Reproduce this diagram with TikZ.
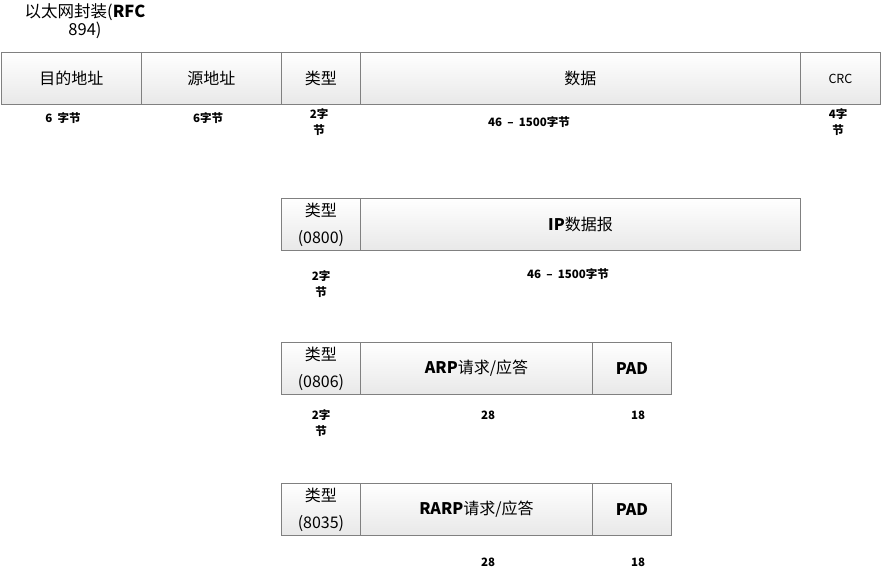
\documentclass[tikz,border=0pt]{standalone}
\usepackage{fontspec}
\setmainfont{Noto Sans CJK SC}
\usetikzlibrary{positioning}

\begin{document}
\begin{tikzpicture}[
  x=1pt, y=-1pt,
  cell/.style={rectangle, draw=black!50, line width=0.9pt,
               top color=white, bottom color=black!9,
               minimum height=52pt, inner sep=0pt, anchor=north west,
               align=center, font=\fontsize{16}{27}\selectfont},
  size/.style={font=\fontsize{11.5}{16}\selectfont\bfseries,
               align=center, inner sep=0pt},
  title/.style={font=\fontsize{16.5}{18}\selectfont, align=center, inner sep=0pt},
]
\useasboundingbox (0,0) rectangle (883,574);

% Title
\node[title] (head) at (85,21) {以太网封装(\textbf{RFC}\\894)};

% Ethernet frame
\node[cell, minimum width=140pt] (dst) at (1,52) {目的地址};
\node[cell, minimum width=140pt] (src) at (141,52) {源地址};
\node[cell, minimum width=79pt] (type) at (281,52) {类型};
\node[cell, minimum width=440pt] (data) at (360,52) {数据};
\node[cell, minimum width=80pt, font=\fontsize{12.5}{14}\selectfont] (crc) at (800,52) {CRC};

\node[size] (dstlen) at (63,118) {6\ \ 字节};
\node[size] (srclen) at (208,118) {6字节};
\node[size] (typelen) at (319,122) {2字\\节};
\node[size] (datalen) at (529,122) {46\ \ –\ \ 1500字节};
\node[size] (crclen) at (838,122) {4字\\节};

% IP datagram
\node[cell, minimum width=79pt] (iptype) at (281,198) {类型\\(0800)};
\node[cell, minimum width=440pt] (ipdata) at (360,198) {\textbf{IP}数据报};

\node[size] (iptypelen) at (321,284) {2字\\节};
\node[size] (ipdatalen) at (568,274) {46\ \ –\ \ 1500字节};

% ARP request / reply
\node[cell, minimum width=79pt] (arptype) at (281,342) {类型\\(0806)};
\node[cell, minimum width=232pt] (arpdata) at (360,342) {\textbf{ARP}请求/应答};
\node[cell, minimum width=79pt] (arppad) at (592,342) {\textbf{PAD}};

\node[size] (arptypelen) at (321,423) {2字\\节};
\node[size] (arpdatalen) at (488,415) {28};
\node[size] (arppadlen) at (638,415) {18};

% RARP request / reply
\node[cell, minimum width=79pt] (rarptype) at (281,483) {类型\\(8035)};
\node[cell, minimum width=232pt] (rarpdata) at (360,483) {\textbf{RARP}请求/应答};
\node[cell, minimum width=79pt] (rarppad) at (592,483) {\textbf{PAD}};

\node[size] (rarpdatalen) at (488,562) {28};
\node[size] (rarppadlen) at (638,562) {18};

\end{tikzpicture}
\end{document}
